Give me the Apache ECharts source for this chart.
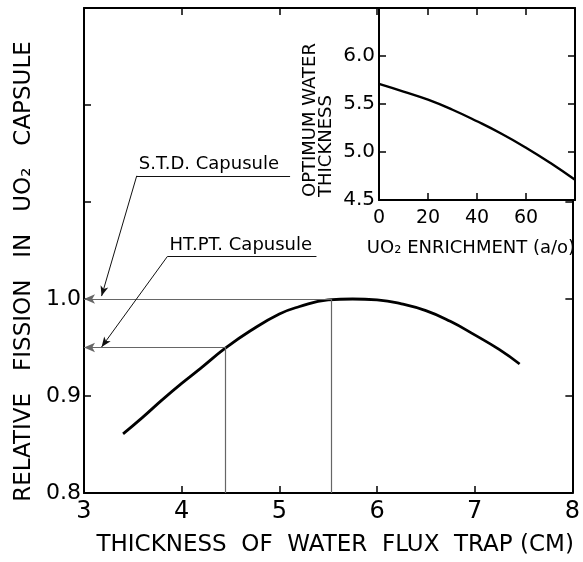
<!DOCTYPE html>
<html>
<head>
<meta charset="utf-8">
<script src="https://cdn.jsdelivr.net/npm/echarts@6/dist/echarts.min.js"></script>
<style>
  html, body { margin: 0; padding: 0; background: #fff; }
  #chart { width: 583px; height: 562px; }
</style>
</head>
<body>
<div id="chart"></div>
<script>
// ---- Main curve: relative fission vs thickness of water flux trap (cm)
const thickness = [3.4, 3.6, 3.8, 4.0, 4.2, 4.45, 4.7, 5.0, 5.2, 5.5, 5.75, 6.0, 6.25, 6.5, 6.75, 7.0, 7.25, 7.46];
const relFission = [0.861, 0.878, 0.896, 0.913, 0.929, 0.9495, 0.967, 0.9845, 0.992, 0.999, 1.0, 0.999, 0.995, 0.988, 0.977, 0.963, 0.948, 0.933];

// ---- Inset: optimum water thickness vs UO2 enrichment (a/o)
const enrichment = [0, 10, 20, 30, 40, 50, 60, 70, 80];
const optThickness = [5.71, 5.63, 5.545, 5.44, 5.32, 5.19, 5.045, 4.885, 4.71];

// ---- Annotation values
const stdLevel = 1.0, stdThick = 5.53;
const htLevel = 0.95, htThick = 4.45;
const stdLabel = 'S.T.D. Capusule';
const htLabel = 'HT.PT. Capusule';
// label underline + leader (data coordinates)
const stdUnder = [[3.54, 1.127], [5.11, 1.127]];
const stdTip = [3.18, 1.003];
const htUnder = [[3.855, 1.044], [5.38, 1.044]];
const htTip = [3.18, 0.9505];

// ---- Tick labels / axis titles
const mainXTitle = 'THICKNESS  OF  WATER  FLUX  TRAP (CM)';
const mainYTitle = 'RELATIVE   FISSION   IN   UO\u2082   CAPSULE';
const insetXTitle = 'UO\u2082 ENRICHMENT (a/o)';
const insetYTitle = 'OPTIMUM WATER\nTHICKNESS';

const FONT = 'DejaVu Sans';
const chart = echarts.init(document.getElementById('chart'), null, { renderer: 'canvas' });

const axisLine = { show: true, onZero: false, lineStyle: { color: '#000', width: 2 } };
const tickIn = { show: true, inside: true, length: 7, lineStyle: { color: '#000', width: 1.5 } };

const guide = { color: '#666', width: 1.2, type: 'solid' };
const leader = { color: '#111', width: 1, type: 'solid' };
const arrowEnd = { symbol: 'arrow', symbolSize: [7, 11] };
const annLabel = { show: true, position: 'insideStartTop', color: '#000',
                   fontSize: 18, fontFamily: FONT, distance: 2 };

const option = {
  animation: false,
  backgroundColor: '#fff',
  textStyle: { fontFamily: FONT },
  grid: [
    { left: 84, right: 8, top: 8, bottom: 69, containLabel: false },
    { left: 379, right: 8, top: 8, height: 192, containLabel: false,
      show: true, backgroundColor: '#fff', borderWidth: 0, z: 3 }
  ],
  xAxis: [
    { type: 'value', gridIndex: 0, position: 'bottom', min: 3, max: 8, interval: 1,
      axisLine, axisTick: tickIn, splitLine: { show: false },
      axisLabel: { color: '#000', fontSize: 24, fontFamily: FONT, margin: 7 },
      name: mainXTitle, nameLocation: 'middle', nameGap: 41,
      nameTextStyle: { color: '#000', fontSize: 23, fontFamily: FONT, padding: [0, 0, 0, 14] } },
    { type: 'value', gridIndex: 0, position: 'top', min: 3, max: 8, interval: 1,
      axisLine, axisTick: tickIn, splitLine: { show: false }, axisLabel: { show: false } },
    { type: 'value', gridIndex: 1, position: 'bottom', min: 0, max: 80, interval: 20, z: 4,
      axisLine, axisTick: tickIn, splitLine: { show: false },
      axisLabel: { color: '#000', fontSize: 19, fontFamily: FONT, margin: 9,
        formatter: v => (v < 80 ? String(v) : '') },
      name: insetXTitle, nameLocation: 'middle', nameGap: 39,
      nameTextStyle: { color: '#000', fontSize: 18, fontFamily: FONT, padding: [0, 12, 0, 0] } },
    { type: 'value', gridIndex: 1, position: 'top', min: 0, max: 80, interval: 20, z: 4,
      axisLine, axisTick: tickIn, splitLine: { show: false }, axisLabel: { show: false } }
  ],
  yAxis: [
    { type: 'value', gridIndex: 0, position: 'left', min: 0.8, max: 1.3, interval: 0.1,
      axisLine, axisTick: tickIn, splitLine: { show: false },
      axisLabel: { color: '#000', fontSize: 22, fontFamily: FONT, margin: 3,
        formatter: v => (v < 1.05 ? v.toFixed(1) : '') },
      name: mainYTitle, nameLocation: 'middle', nameGap: 48,
      nameTextStyle: { color: '#000', fontSize: 23, fontFamily: FONT, padding: [0, 42, 0, 0] } },
    { type: 'value', gridIndex: 0, position: 'right', min: 0.8, max: 1.3, interval: 0.1,
      axisLine, axisTick: tickIn, splitLine: { show: false }, axisLabel: { show: false } },
    { type: 'value', gridIndex: 1, position: 'left', min: 4.5, max: 6.5, interval: 0.5, z: 4,
      axisLine, axisTick: tickIn, splitLine: { show: false },
      axisLabel: { color: '#000', fontSize: 20, fontFamily: FONT, margin: 4,
        formatter: v => (v < 6.25 ? v.toFixed(1) : '') } },
    { type: 'value', gridIndex: 1, position: 'right', min: 4.5, max: 6.5, interval: 0.5, z: 4,
      axisLine, axisTick: tickIn, splitLine: { show: false }, axisLabel: { show: false } }
  ],
  series: [
    {
      type: 'line', xAxisIndex: 0, yAxisIndex: 0, z: 2,
      data: thickness.map((x, i) => [x, relFission[i]]),
      smooth: 0.5, showSymbol: false, symbol: 'none',
      lineStyle: { color: '#000', width: 2.8 },
      markLine: {
        silent: true, animation: false,
        label: { show: false },
        data: [
          // S.T.D. level: horizontal with arrow to axis, vertical drop
          [{ coord: [stdThick, stdLevel], symbol: 'none', lineStyle: guide },
           { coord: [3, stdLevel], ...arrowEnd }],
          [{ coord: [stdThick, stdLevel], symbol: 'none', lineStyle: guide },
           { coord: [stdThick, 0.8], symbol: 'none' }],
          // HT.PT. level
          [{ coord: [htThick, htLevel], symbol: 'none', lineStyle: guide },
           { coord: [3, htLevel], ...arrowEnd }],
          [{ coord: [htThick, htLevel], symbol: 'none', lineStyle: guide },
           { coord: [htThick, 0.8], symbol: 'none' }],
          // S.T.D. label underline + leader
          [{ coord: stdUnder[0], symbol: 'none', lineStyle: leader,
             label: { ...annLabel, formatter: stdLabel } },
           { coord: stdUnder[1], symbol: 'none' }],
          [{ coord: stdUnder[0], symbol: 'none', lineStyle: leader },
           { coord: stdTip, symbol: 'arrow', symbolSize: [6, 10] }],
          // HT.PT. label underline + leader
          [{ coord: htUnder[0], symbol: 'none', lineStyle: leader,
             label: { ...annLabel, formatter: htLabel } },
           { coord: htUnder[1], symbol: 'none' }],
          [{ coord: htUnder[0], symbol: 'none', lineStyle: leader },
           { coord: htTip, symbol: 'arrow', symbolSize: [6, 10] }]
        ]
      }
    },
    {
      type: 'line', xAxisIndex: 2, yAxisIndex: 2, z: 5,
      data: enrichment.map((x, i) => [x, optThickness[i]]),
      smooth: 0.5, showSymbol: false, symbol: 'none',
      lineStyle: { color: '#000', width: 2.4 }
    }
  ],
  graphic: [
    { type: 'text', x: 318, y: 197, rotation: Math.PI / 2, z: 10,
      style: { text: insetYTitle, fill: '#000', fontSize: 18, fontFamily: FONT,
               lineHeight: 16, align: 'left', verticalAlign: 'middle' } }
  ]
};
chart.setOption(option);
</script>
</body>
</html>
